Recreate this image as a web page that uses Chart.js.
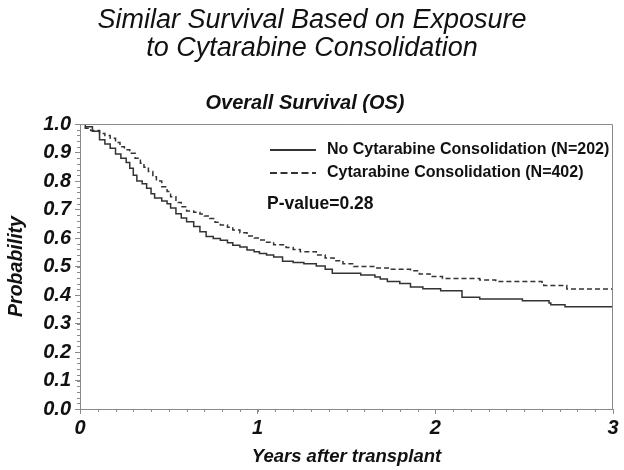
<!DOCTYPE html>
<html>
<head>
<meta charset="utf-8">
<script src="https://cdn.jsdelivr.net/npm/chart.js@4/dist/chart.umd.min.js"></script>
<style>
  html, body { margin: 0; padding: 0; background: #fff; }
  #wrap { width: 624px; height: 470px; position: relative; }
</style>
</head>
<body>
<div id="wrap"><canvas id="kmChart"></canvas></div>
<script>
// Kaplan-Meier steps (years, survival probability)
var noCytTimes = [0, 0.03, 0.07, 0.11, 0.14, 0.17, 0.20, 0.23, 0.26, 0.28, 0.30, 0.32, 0.35, 0.375, 0.40, 0.42, 0.46, 0.49, 0.51, 0.54, 0.57, 0.60, 0.64, 0.675, 0.71, 0.75, 0.79, 0.83, 0.86, 0.90, 0.94, 0.98, 1.01, 1.05, 1.09, 1.14, 1.20, 1.26, 1.33, 1.38, 1.42, 1.58, 1.66, 1.69, 1.73, 1.80, 1.86, 1.93, 2.03, 2.15, 2.25, 2.49, 2.64, 2.65, 2.73, 3.0];
var noCytSurv = [1.0, 0.99, 0.975, 0.945, 0.93, 0.915, 0.895, 0.88, 0.865, 0.845, 0.82, 0.80, 0.79, 0.775, 0.755, 0.74, 0.73, 0.72, 0.705, 0.685, 0.67, 0.657, 0.64, 0.622, 0.605, 0.598, 0.592, 0.583, 0.575, 0.568, 0.558, 0.552, 0.546, 0.54, 0.533, 0.518, 0.514, 0.51, 0.502, 0.49, 0.476, 0.47, 0.463, 0.456, 0.447, 0.44, 0.428, 0.422, 0.415, 0.392, 0.386, 0.38, 0.372, 0.366, 0.359, 0.359];

var cytTimes = [0, 0.03, 0.06, 0.11, 0.14, 0.17, 0.20, 0.225, 0.25, 0.28, 0.31, 0.34, 0.36, 0.385, 0.41, 0.43, 0.46, 0.49, 0.51, 0.54, 0.57, 0.60, 0.64, 0.675, 0.70, 0.73, 0.76, 0.79, 0.83, 0.86, 0.90, 0.94, 0.98, 1.01, 1.05, 1.09, 1.16, 1.20, 1.24, 1.33, 1.38, 1.43, 1.48, 1.54, 1.66, 1.74, 1.86, 1.91, 1.97, 2.04, 2.25, 2.34, 2.60, 2.61, 2.74, 3.0];
var cytSurv = [1.0, 0.985, 0.977, 0.967, 0.96, 0.95, 0.935, 0.92, 0.91, 0.897, 0.88, 0.862, 0.848, 0.833, 0.815, 0.80, 0.78, 0.763, 0.745, 0.725, 0.71, 0.695, 0.69, 0.684, 0.677, 0.668, 0.655, 0.646, 0.638, 0.628, 0.618, 0.607, 0.60, 0.593, 0.585, 0.576, 0.567, 0.56, 0.552, 0.54, 0.53, 0.52, 0.51, 0.50, 0.495, 0.49, 0.485, 0.474, 0.465, 0.458, 0.453, 0.447, 0.445, 0.433, 0.421, 0.421];

var seriesLabels = ['No Cytarabine Consolidation (N=202)', 'Cytarabine Consolidation (N=402)'];
var xTickLabels = ['0', '1', '2', '3'];
var titleLines = ['Similar Survival Based on Exposure', 'to Cytarabine Consolidation'];
var subTitle = 'Overall Survival (OS)';
var pValueText = 'P-value=0.28';

var FONT = '"Liberation Sans", Arial, sans-serif';
var lineColor = '#333333';
var axisColor = '#8a8a8a';

function toPoints(xs, ys) {
    return xs.map(function (x, i) { return { x: x, y: ys[i] }; });
}

// titles, box, minor ticks and the in-plot legend
var extras = {
    id: 'extras',
    afterDraw: function (chart) {
        var ctx = chart.ctx;
        var a = chart.chartArea;
        var xs = chart.scales.x, ys = chart.scales.y;
        ctx.save();

        // frame on top/right
        ctx.strokeStyle = axisColor;
        ctx.lineWidth = 1;
        ctx.beginPath();
        ctx.moveTo(a.left, a.top + 0.5);
        ctx.lineTo(a.right - 0.5, a.top + 0.5);
        ctx.lineTo(a.right - 0.5, a.bottom);
        ctx.stroke();

        // minor ticks
        ctx.beginPath();
        for (var t = 0.1; t < 3; t += 0.1) {
            var px = Math.round(xs.getPixelForValue(t)) + 0.5;
            ctx.moveTo(px, a.bottom);
            ctx.lineTo(px, a.bottom + 3);
        }
        for (var v = 0.02; v < 1; v += 0.02) {
            var py = Math.round(ys.getPixelForValue(v)) + 0.5;
            ctx.moveTo(a.left, py);
            ctx.lineTo(a.left - 3, py);
        }
        ctx.stroke();

        // titles
        ctx.fillStyle = '#111';
        ctx.textAlign = 'center';
        ctx.textBaseline = 'alphabetic';
        ctx.font = 'italic 27px ' + FONT;
        ctx.fillText(titleLines[0], 312, 28);
        ctx.fillText(titleLines[1], 312, 56);
        ctx.font = 'italic bold 20px ' + FONT;
        ctx.fillText(subTitle, 305, 109);

        // legend
        ctx.textAlign = 'left';
        ctx.textBaseline = 'middle';
        ctx.font = 'bold 16px ' + FONT;
        chart.data.datasets.forEach(function (ds, i) {
            var ly = 150 + i * 23;
            ctx.strokeStyle = ds.borderColor;
            ctx.lineWidth = 2;
            ctx.setLineDash(ds.borderDash ? [7, 3.5] : []);
            ctx.beginPath();
            ctx.moveTo(270, ly);
            ctx.lineTo(316, ly);
            ctx.stroke();
            ctx.setLineDash([]);
            ctx.fillText(ds.label, 327, ly);
        });
        ctx.font = 'bold 17.5px ' + FONT;
        ctx.fillText(pValueText, 267, 204);

        ctx.restore();
    }
};

const ctx = document.getElementById('kmChart');

new Chart(ctx, {
    type: 'line',
    data: {
        datasets: [{
            label: seriesLabels[0],
            data: toPoints(noCytTimes, noCytSurv),
            borderColor: lineColor,
            borderWidth: 1.5,
            stepped: true,
            pointRadius: 0,
            fill: false
        }, {
            label: seriesLabels[1],
            data: toPoints(cytTimes, cytSurv),
            borderColor: lineColor,
            borderWidth: 1.5,
            borderDash: [5, 3],
            stepped: true,
            pointRadius: 0,
            fill: false
        }]
    },
    options: {
        responsive: true,
        maintainAspectRatio: false,
        animation: false,
        events: [],
        layout: {
            padding: { top: 124, right: 11, left: 0, bottom: 0 }
        },
        scales: {
            x: {
                type: 'linear',
                min: 0,
                max: 3,
                afterFit: function (scale) { scale.height = 61; },
                ticks: {
                    stepSize: 1,
                    color: '#111',
                    padding: 2,
                    font: { family: FONT, size: 20, style: 'italic', weight: 'bold' },
                    callback: function (value) { return xTickLabels[value]; }
                },
                grid: { drawOnChartArea: false, tickLength: 5, tickColor: axisColor },
                border: { color: axisColor },
                title: {
                    display: true,
                    text: 'Years after transplant',
                    color: '#111',
                    padding: { top: 0, bottom: 2 },
                    font: { family: FONT, size: 18.5, style: 'italic', weight: 'bold' }
                }
            },
            y: {
                min: 0,
                max: 1,
                afterFit: function (scale) { scale.width = 80; },
                ticks: {
                    stepSize: 0.1,
                    color: '#111',
                    padding: 4,
                    font: { family: FONT, size: 20, style: 'italic', weight: 'bold' },
                    callback: function (value) { return value.toFixed(1); }
                },
                grid: { drawOnChartArea: false, tickLength: 5, tickColor: axisColor },
                border: { color: axisColor },
                title: {
                    display: true,
                    text: 'Probability',
                    color: '#111',
                    padding: { top: 5, bottom: 0 },
                    font: { family: FONT, size: 19.5, style: 'italic', weight: 'bold' }
                }
            }
        },
        plugins: {
            legend: { display: false },
            tooltip: { enabled: false }
        }
    },
    plugins: [extras]
});
</script>
</body>
</html>
